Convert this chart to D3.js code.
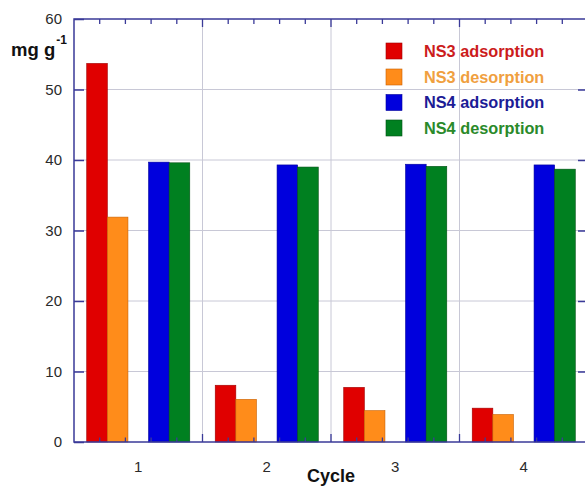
<!DOCTYPE html>
<html>
<head>
<meta charset="utf-8">
<script src="https://cdn.jsdelivr.net/npm/d3@7"></script>
<style>
html,body{margin:0;padding:0;background:#fff;}
svg{display:block;font-family:"Liberation Sans",Arial,sans-serif;}
</style>
</head>
<body>
<svg id="chart" width="585" height="486"></svg>
<script>
const cycles = ["1","2","3","4"];
const seriesNames = ["NS3 adsorption","NS3 desorption","NS4 adsorption","NS4 desorption"];
const ns3Adsorption = [53.7, 8.05, 7.75, 4.8];
const ns3Desorption = [31.9, 6.05, 4.45, 3.9];
const ns4Adsorption = [39.7, 39.3, 39.4, 39.3];
const ns4Desorption = [39.6, 39.0, 39.1, 38.7];
const yTicks = [0,10,20,30,40,50,60];
const barColors = ["#e00000","#ff8c1a","#0000dd","#008020"];
const strokeColors = ["#a00000","#c86000","#00009a","#005014"];
const textColors = ["#cc1c1c","#f0a040","#1c1c96","#2a8a2a"];

const seriesValues = [ns3Adsorption, ns3Desorption, ns4Adsorption, ns4Desorption];

const svg = d3.select("#chart");
const L = 74, R = 588, T = 19, B = 442;
const axisColor = "#3a3a98";
const gridColor = "#c8c8d6";

const x = d3.scaleBand().domain(cycles).range([L, R]).padding(0);
const bw = x.bandwidth();
const slots = ["NS3 adsorption","NS3 desorption","_gap","NS4 adsorption","NS4 desorption"];
const pad = bw * 0.099;
const xs = d3.scaleBand().domain(slots).range([pad, bw - pad]).padding(0);
const y = d3.scaleLinear().domain([0, 60]).range([B, T]);

// grid
const grid = svg.append("g");
grid.selectAll("line.h").data(yTicks.filter(t => t > 0 && t < 60)).join("line")
  .attr("x1", L).attr("x2", R).attr("y1", d => y(d)).attr("y2", d => y(d))
  .attr("stroke", gridColor).attr("stroke-width", 1);
grid.selectAll("line.v").data(cycles.slice(1)).join("line")
  .attr("x1", d => x(d)).attr("x2", d => x(d)).attr("y1", T).attr("y2", B)
  .attr("stroke", gridColor).attr("stroke-width", 1);

// bars
const barData = [];
cycles.forEach((c, i) => {
  seriesNames.forEach((s, j) => {
    barData.push({c, s, j, v: seriesValues[j][i]});
  });
});
svg.append("g").selectAll("rect").data(barData).join("rect")
  .attr("x", d => x(d.c) + xs(d.s))
  .attr("width", xs.bandwidth())
  .attr("y", d => y(d.v))
  .attr("height", d => y(0) - y(d.v))
  .attr("fill", d => barColors[d.j])
  .attr("stroke", d => strokeColors[d.j])
  .attr("stroke-width", 0.6);

// axes frame
const frame = svg.append("g");
frame.append("rect").attr("x", L).attr("y", T).attr("width", R - L).attr("height", B - T)
  .attr("fill", "none").attr("stroke", axisColor).attr("stroke-width", 1.5);

// left axis
const yAxis = d3.axisLeft(y).tickValues(yTicks).tickSize(-10).tickPadding(12);
const gy = svg.append("g").attr("transform", `translate(${L},0)`).call(yAxis);
gy.select(".domain").remove();
gy.selectAll(".tick line").attr("stroke", axisColor).attr("stroke-width", 1.5);
gy.selectAll(".tick text").attr("font-size", 15).attr("fill", "#2a2a2a")
  .attr("font-family", "Liberation Sans, Arial, sans-serif");

// right axis (inward ticks)
const yAxisR = d3.axisRight(y).tickValues(yTicks.slice(1, -1)).tickSize(-10).tickFormat("");
const gyr = svg.append("g").attr("transform", `translate(${R},0)`).call(yAxisR);
gyr.select(".domain").remove();
gyr.selectAll(".tick line").attr("stroke", axisColor).attr("stroke-width", 1.5);

// x minor / major ticks (top and bottom)
const tickPos = [];
cycles.forEach(c => {
  for (let k = 0; k < 5; k++) tickPos.push({pos: x(c) + bw * k / 5, major: k === 0});
});
const tk = svg.append("g");
tk.selectAll("line.b").data(tickPos.filter(d => d.pos > L + 1)).join("line")
  .attr("x1", d => d.pos).attr("x2", d => d.pos)
  .attr("y1", B).attr("y2", d => B - (d.major ? 8 : 4.5))
  .attr("stroke", axisColor).attr("stroke-width", 1.3);
tk.selectAll("line.t").data(tickPos.filter(d => d.pos > L + 1)).join("line")
  .attr("x1", d => d.pos).attr("x2", d => d.pos)
  .attr("y1", T).attr("y2", d => T + (d.major ? 8 : 5))
  .attr("stroke", axisColor).attr("stroke-width", 1.3);

// x labels
const xAxis = d3.axisBottom(x).tickSize(0).tickPadding(19);
const gx = svg.append("g").attr("transform", `translate(0,${B})`).call(xAxis);
gx.select(".domain").remove();
gx.selectAll(".tick text").attr("font-size", 15).attr("fill", "#2a2a2a")
  .attr("font-family", "Liberation Sans, Arial, sans-serif");

// axis titles
svg.append("text").attr("x", (L + R) / 2).attr("y", 481.5)
  .attr("text-anchor", "middle").attr("font-size", 18).attr("font-weight", "bold")
  .attr("fill", "#111").text("Cycle");
const yt = svg.append("text").attr("x", 11).attr("y", 56)
  .attr("font-size", 18.5).attr("font-weight", "bold").attr("fill", "#111");
yt.append("tspan").text("mg g");
yt.append("tspan").attr("font-size", 12).attr("dy", -12).attr("dx", 1).text("-1");

// legend
const lg = svg.append("g");
const rowY = [51, 77, 102.5, 128];
seriesNames.forEach((s, j) => {
  lg.append("rect").attr("x", 386).attr("y", rowY[j] - 8).attr("width", 16).attr("height", 16)
    .attr("fill", barColors[j]).attr("stroke", strokeColors[j]).attr("stroke-width", 0.6);
  lg.append("text").attr("x", 424).attr("y", rowY[j] + 5.8)
    .attr("font-size", 16.3).attr("font-weight", "bold").attr("fill", textColors[j]).text(s);
});
</script>
</body>
</html>
